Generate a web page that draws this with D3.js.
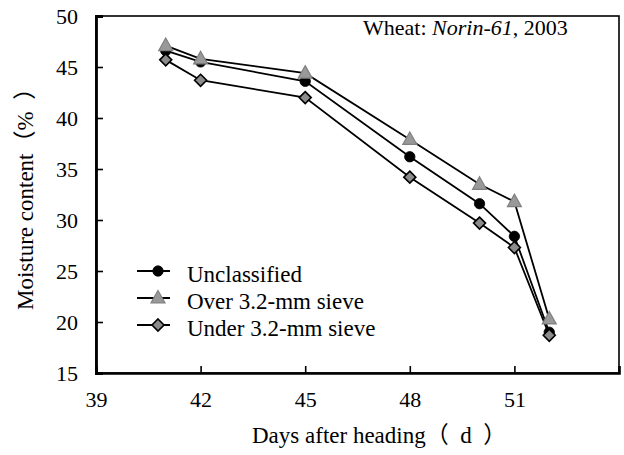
<!DOCTYPE html>
<html>
<head>
<meta charset="utf-8">
<script src="https://cdn.jsdelivr.net/npm/d3@7"></script>
<style>
  html, body { margin: 0; padding: 0; background: #fff; }
  svg { display: block; }
  text { font-family: "Liberation Serif", "Times New Roman", "Noto Sans CJK SC", serif; fill: #000; }
</style>
</head>
<body>
<svg id="chart" width="624" height="455"></svg>
<script>
// Days after heading and moisture content (%) of each grain class
const days = [41, 42, 45, 48, 50, 51, 52];
const unclassified = [46.6, 45.5, 43.6, 36.2, 31.6, 28.4, 19.0];
const overSieve = [47.1, 45.8, 44.4, 37.9, 33.5, 31.8, 20.3];
const underSieve = [45.7, 43.7, 42.0, 34.2, 29.7, 27.3, 18.7];

const seriesNames = ["Unclassified", "Over 3.2-mm sieve", "Under 3.2-mm sieve"];
const xTicks = [39, 42, 45, 48, 51];
const yTicks = [15, 20, 25, 30, 35, 40, 45, 50];

const svg = d3.select("#chart");
const plotLeft = 96, plotRight = 619, plotTop = 16, plotBottom = 373;

const x = d3.scaleLinear().domain([39, 54]).range([plotLeft, plotRight]);
const y = d3.scaleLinear().domain([15, 50]).range([plotBottom, plotTop]);

// Frame around plot area
svg.append("rect")
  .attr("x", plotLeft).attr("y", plotTop)
  .attr("width", plotRight - plotLeft).attr("height", plotBottom - plotTop)
  .attr("fill", "none").attr("stroke", "#000").attr("stroke-width", 1.6);

// Axes with inward ticks
const xAxis = d3.axisBottom(x).tickValues(xTicks).tickSize(-7).tickPadding(14).tickFormat(d3.format("d"));
const gx = svg.append("g").attr("transform", `translate(0,${plotBottom})`).call(xAxis);
gx.select(".domain").attr("stroke-width", 2.6);
gx.selectAll(".tick line").attr("stroke-width", 1.6);
gx.selectAll("text").attr("font-size", 22).attr("dy", "0.9em");

const yAxis = d3.axisLeft(y).tickValues(yTicks).tickSize(-7).tickPadding(18).tickFormat(d3.format("d"));
const gy = svg.append("g").attr("transform", `translate(${plotLeft},0)`).call(yAxis);
gy.select(".domain").attr("stroke-width", 2.8);
gy.selectAll(".tick line").attr("stroke-width", 1.6);
gy.selectAll("text").attr("font-size", 22);
svg.selectAll(".tick text").style("font-family", "'Liberation Serif', serif");

// Axis titles
svg.append("text")
  .attr("x", 252).attr("y", 443)
  .attr("font-size", 23)
  .text("Days after heading（\u2002d\u2002）");

svg.append("text")
  .attr("transform", "translate(33,310) rotate(-90)")
  .attr("font-size", 23)
  .text("Moisture content（%\u2002）");

// Cultivar note
const note = svg.append("text").attr("x", 363).attr("y", 35).attr("font-size", 22);
note.append("tspan").text("Wheat: ");
note.append("tspan").attr("font-style", "italic").text("Norin-61");
note.append("tspan").text(", 2003");

const series = [
  { name: seriesNames[0], values: unclassified, shape: "circle" },
  { name: seriesNames[1], values: overSieve, shape: "triangle" },
  { name: seriesNames[2], values: underSieve, shape: "diamond" }
];

const line = d3.line().x((d, i) => x(days[i])).y(d => y(d));

function drawMarker(g, shape) {
  if (shape === "circle") {
    g.append("circle").attr("r", 5.2).attr("fill", "#000").attr("stroke", "#000").attr("stroke-width", 0.8);
  } else if (shape === "triangle") {
    g.append("path").attr("d", "M0,-7.5 L7,5 L-7,5 Z")
      .attr("fill", "#999").attr("stroke", "#808080").attr("stroke-width", 1.2);
  } else {
    g.append("path").attr("d", "M0,-6 L6,0 L0,6 L-6,0 Z")
      .attr("fill", "#8c8c8c").attr("stroke", "#000").attr("stroke-width", 1.6);
  }
}

// Lines first, then markers so the symbols sit above the strokes
series.forEach(s => {
  svg.append("path").datum(s.values)
    .attr("d", line).attr("fill", "none")
    .attr("stroke", "#000").attr("stroke-width", 1.8);
});
series.forEach(s => {
  s.values.forEach((v, i) => {
    const g = svg.append("g").attr("transform", `translate(${x(days[i])},${y(v)})`);
    drawMarker(g, s.shape);
  });
});

// Legend
const legendY = [271, 298, 325];
series.forEach((s, i) => {
  const g = svg.append("g").attr("transform", `translate(0,${legendY[i]})`);
  g.append("line").attr("x1", 137).attr("x2", 170).attr("y1", 0).attr("y2", 0)
    .attr("stroke", "#000").attr("stroke-width", 1.8);
  const m = g.append("g").attr("transform", "translate(158,0)");
  drawMarker(m, s.shape);
  g.append("text").attr("x", 187).attr("y", 10.5)
    .attr("font-size", 23).text(s.name);
});
</script>
</body>
</html>
